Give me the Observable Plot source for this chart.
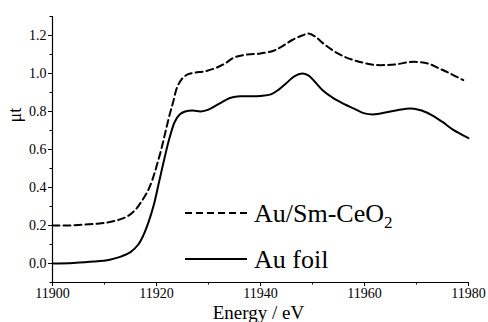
<!DOCTYPE html>
<html>
<head>
<meta charset="utf-8">
<script src="https://cdn.jsdelivr.net/npm/d3@7"></script>
<script src="https://cdn.jsdelivr.net/npm/@observablehq/plot@0.6"></script>
<style>
  html, body { margin: 0; padding: 0; background: #fff; }
  #wrap { position: relative; width: 488px; height: 322px; }
  #legend { position: absolute; left: 0; top: 0; pointer-events: none; }
</style>
</head>
<body>
<div id="wrap"></div>
<script>
// Au/Sm-CeO2 (dashed)
const energySm = [11900, 11903, 11906, 11909, 11911, 11913, 11914.5, 11916, 11917.2, 11918.3, 11919.2, 11920.1, 11921, 11921.7, 11922.4, 11923.2, 11924, 11925, 11926, 11927.5, 11929, 11931, 11933, 11935, 11937.5, 11940, 11942.5, 11944, 11946, 11948, 11949.2, 11950.5, 11952, 11954, 11956, 11958, 11960, 11962, 11964.5, 11966.5, 11968.5, 11970.5, 11972.5, 11974.5, 11976.5, 11979];
const muSm = [0.20, 0.20, 0.205, 0.21, 0.218, 0.232, 0.25, 0.285, 0.33, 0.38, 0.44, 0.52, 0.61, 0.69, 0.77, 0.85, 0.93, 0.975, 0.995, 1.005, 1.01, 1.025, 1.05, 1.085, 1.10, 1.105, 1.12, 1.14, 1.175, 1.20, 1.21, 1.195, 1.16, 1.12, 1.09, 1.07, 1.055, 1.045, 1.045, 1.05, 1.06, 1.06, 1.05, 1.025, 1.0, 0.965];

// Au foil (solid)
const energyFoil = [11900, 11904, 11908, 11911, 11913, 11915, 11916.5, 11917.5, 11918.5, 11919.5, 11920.5, 11921.5, 11922.5, 11923.5, 11924.5, 11925.5, 11927, 11928.5, 11930, 11932, 11934, 11936, 11938, 11940, 11942, 11943.5, 11945, 11946.5, 11948, 11949.2, 11950.5, 11952, 11954, 11956, 11958, 11960, 11962, 11964, 11966, 11968, 11969.5, 11971, 11973, 11975, 11977, 11980];
const muFoil = [0.0, 0.003, 0.01, 0.02, 0.035, 0.06, 0.10, 0.15, 0.22, 0.31, 0.43, 0.55, 0.66, 0.745, 0.785, 0.80, 0.805, 0.80, 0.81, 0.84, 0.87, 0.88, 0.88, 0.882, 0.89, 0.915, 0.95, 0.985, 1.0, 0.99, 0.955, 0.91, 0.87, 0.84, 0.815, 0.79, 0.785, 0.795, 0.805, 0.815, 0.815, 0.805, 0.78, 0.745, 0.705, 0.66];

const xMajor = [11900, 11920, 11940, 11960, 11980];
const xMinor = [11910, 11930, 11950, 11970];
const yMajor = [0.0, 0.2, 0.4, 0.6, 0.8, 1.0, 1.2];
const yMinor = [-0.1, 0.1, 0.3, 0.5, 0.7, 0.9, 1.1, 1.3];
const xDomain = [11900, 11980];
const yDomain = [-0.1, 1.3];

const seriesNames = ["Au/Sm-CeO", "Au foil"];
const seriesSub = ["2", ""];
const seriesDash = ["7,4", null];

const smData = energySm.map((e, i) => ({e, mu: muSm[i]}));
const foilData = energyFoil.map((e, i) => ({e, mu: muFoil[i]}));

const FONT = 'Liberation Serif, Times New Roman, Times, DejaVu Serif, serif';
const W = 488, H = 322;
const mL = 52, mR = 20, mT = 16, mB = 40;

const chart = Plot.plot({
  width: W,
  height: H,
  marginLeft: mL,
  marginRight: mR,
  marginTop: mT,
  marginBottom: mB,
  style: {fontFamily: FONT, fontSize: "14px", color: "#000", background: "#fff"},
  x: {domain: xDomain},
  y: {domain: yDomain},
  marks: [
    Plot.ruleY([yDomain[0]], {stroke: "#000", strokeWidth: 1.2}),
    Plot.ruleX([xDomain[0]], {stroke: "#000", strokeWidth: 1.2}),
    Plot.axisX({ticks: xMajor, tickSize: 4, tickFormat: d3.format("d"), tickPadding: 2, label: null, fontSize: 14, stroke: "#000"}),
    Plot.axisX({ticks: xMinor, tickSize: 2.5, text: null, label: null, stroke: "#000"}),
    Plot.axisY({ticks: yMajor, tickSize: 4, tickFormat: d3.format(".1f"), tickPadding: 2, label: null, fontSize: 14, stroke: "#000"}),
    Plot.axisY({ticks: yMinor, tickSize: 2.5, text: null, label: null, stroke: "#000"}),
    Plot.line(smData, {x: "e", y: "mu", stroke: "#000", strokeWidth: 2, strokeDasharray: seriesDash[0], curve: "catmull-rom"}),
    Plot.line(foilData, {x: "e", y: "mu", stroke: "#000", strokeWidth: 2, curve: "catmull-rom"}),
    Plot.text(["Energy / eV"], {frameAnchor: "bottom", dx: -2, dy: 36, fontSize: 19, lineAnchor: "bottom"}),
    Plot.text(["μt"], {frameAnchor: "left", rotate: -90, dx: -37, dy: -27, fontSize: 18, lineAnchor: "middle"})
  ]
});

const wrap = document.getElementById("wrap");
wrap.appendChild(chart);

// Legend overlay
const leg = d3.select(wrap).append("svg")
  .attr("id", "legend")
  .attr("width", W).attr("height", H)
  .attr("font-family", FONT);
const legX0 = 185, legX1 = 247, legTextX = 254;
const legY = [213, 259];
seriesNames.forEach((name, i) => {
  const g = leg.append("g");
  g.append("line")
    .attr("x1", legX0).attr("x2", legX1)
    .attr("y1", legY[i]).attr("y2", legY[i])
    .attr("stroke", "#000").attr("stroke-width", 2)
    .attr("stroke-dasharray", seriesDash[i]);
  const t = g.append("text")
    .attr("x", legTextX).attr("y", legY[i] + 9)
    .attr("font-family", FONT)
    .attr("font-size", 26)
    .attr("fill", "#000")
    .text(name);
  if (seriesSub[i]) {
    t.append("tspan").attr("dy", 6).attr("font-size", 17).text(seriesSub[i]);
  }
});
</script>
</body>
</html>
